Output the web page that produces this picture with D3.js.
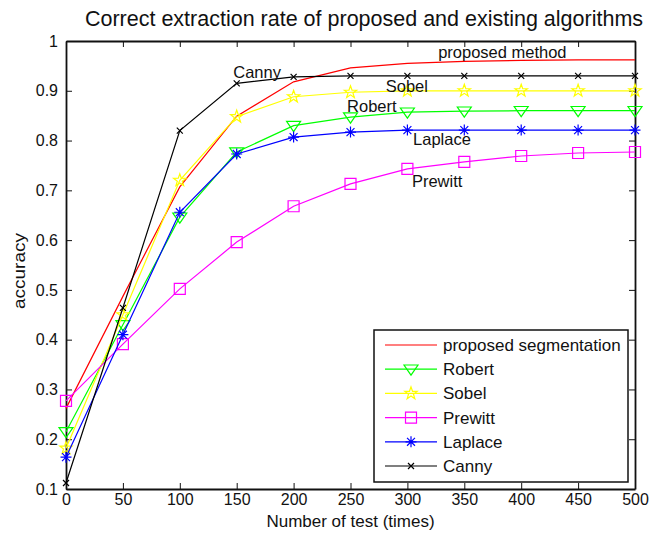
<!DOCTYPE html>
<html>
<head>
<meta charset="utf-8">
<script src="https://cdn.jsdelivr.net/npm/d3@7"></script>
<style>
  body { margin: 0; background: #fff; }
  text { font-family: "Liberation Sans", Arial, sans-serif; fill: #111; }
</style>
</head>
<body>
<svg id="drawing_region"></svg>
<script>
// number of tests on the x axis
const tests = [0, 50, 100, 150, 200, 250, 300, 350, 400, 450, 500];

// accuracy for each method
const proposed = [0.262, 0.487, 0.707, 0.849, 0.918, 0.946, 0.955, 0.959, 0.961, 0.962, 0.962];
const robert   = [0.215, 0.430, 0.646, 0.777, 0.830, 0.847, 0.857, 0.859, 0.860, 0.860, 0.860];
const sobel    = [0.182, 0.450, 0.720, 0.848, 0.888, 0.897, 0.900, 0.900, 0.900, 0.900, 0.900];
const prewitt  = [0.277, 0.391, 0.502, 0.596, 0.668, 0.713, 0.743, 0.757, 0.769, 0.775, 0.777];
const laplace  = [0.164, 0.410, 0.656, 0.773, 0.807, 0.817, 0.821, 0.821, 0.821, 0.821, 0.821];
const canny    = [0.112, 0.464, 0.820, 0.915, 0.928, 0.930, 0.930, 0.930, 0.930, 0.930, 0.930];

const seriesNames = ["proposed segmentation", "Robert", "Sobel", "Prewitt", "Laplace", "Canny"];
const xTicks = [0, 50, 100, 150, 200, 250, 300, 350, 400, 450, 500];
const yTicks = [0.1, 0.2, 0.3, 0.4, 0.5, 0.6, 0.7, 0.8, 0.9, 1];

// text labels placed next to the curves
const notes = [
  {text: "Canny", x: 147, y: 0.926},
  {text: "proposed method", x: 327, y: 0.966},
  {text: "Sobel", x: 281, y: 0.898},
  {text: "Robert", x: 247, y: 0.858},
  {text: "Laplace", x: 305, y: 0.791},
  {text: "Prewitt", x: 304, y: 0.707}
];

const config = {
  width: 651, height: 534,
  margin: {top: 41, right: 16, bottom: 45, left: 66}
};

const series = [
  {name: seriesNames[0], values: proposed, color: "#ff0000", marker: null},
  {name: seriesNames[1], values: robert,   color: "#00ff00", marker: "tri"},
  {name: seriesNames[2], values: sobel,    color: "#ffff00", marker: "star"},
  {name: seriesNames[3], values: prewitt,  color: "#ff00ff", marker: "square"},
  {name: seriesNames[4], values: laplace,  color: "#0000ff", marker: "ast"},
  {name: seriesNames[5], values: canny,    color: "#000000", marker: "x"}
];

// marker shapes, drawn around 0,0
function markerPath(type) {
  const p = d3.path();
  if (type === "tri") {
    const r = 7;
    p.moveTo(-r, -r * 0.6); p.lineTo(r, -r * 0.6); p.lineTo(0, r * 0.85); p.closePath();
  } else if (type === "square") {
    const r = 5.5;
    p.rect(-r, -r, 2 * r, 2 * r);
  } else if (type === "star") {
    const ro = 6.5, ri = 2.6;
    for (let i = 0; i < 10; i++) {
      const a = -Math.PI / 2 + i * Math.PI / 5;
      const r = i % 2 ? ri : ro;
      if (i === 0) p.moveTo(r * Math.cos(a), r * Math.sin(a));
      else p.lineTo(r * Math.cos(a), r * Math.sin(a));
    }
    p.closePath();
  } else if (type === "ast") {
    const r = 5.5, d = r * 0.72;
    p.moveTo(0, -r); p.lineTo(0, r);
    p.moveTo(-r, 0); p.lineTo(r, 0);
    p.moveTo(-d, -d); p.lineTo(d, d);
    p.moveTo(-d, d); p.lineTo(d, -d);
  } else if (type === "x") {
    const d = 3;
    p.moveTo(-d, -d); p.lineTo(d, d);
    p.moveTo(-d, d); p.lineTo(d, -d);
  }
  return p.toString();
}

const svg = d3.select("#drawing_region")
  .attr("width", config.width)
  .attr("height", config.height);

const innerW = config.width - config.margin.left - config.margin.right;
const innerH = config.height - config.margin.top - config.margin.bottom;

const chart = svg.append("g")
  .attr("transform", `translate(${config.margin.left},${config.margin.top})`);

const xscale = d3.scaleLinear().domain([0, 500]).range([0, innerW]);
const yscale = d3.scaleLinear().domain([0.1, 1]).range([innerH, 0]);

// axes with inward ticks on all four sides
const fmtY = d => d === 1 ? "1" : d3.format(".1f")(d);
const axBottom = chart.append("g").attr("transform", `translate(0,${innerH})`)
  .call(d3.axisBottom(xscale).tickValues(xTicks).tickSizeInner(-6).tickSizeOuter(0).tickPadding(5));
const axLeft = chart.append("g")
  .call(d3.axisLeft(yscale).tickValues(yTicks).tickFormat(fmtY).tickSizeInner(-6).tickSizeOuter(0).tickPadding(8));
const axTop = chart.append("g")
  .call(d3.axisTop(xscale).tickValues(xTicks).tickSizeInner(-6).tickSizeOuter(0).tickFormat(""));
const axRight = chart.append("g").attr("transform", `translate(${innerW},0)`)
  .call(d3.axisRight(yscale).tickValues(yTicks).tickSizeInner(-6).tickSizeOuter(0).tickFormat(""));

[axBottom, axLeft, axTop, axRight].forEach(g => {
  g.select(".domain").attr("stroke", "#111").attr("stroke-width", 1.8);
  g.selectAll(".tick line").attr("stroke", "#111").attr("stroke-width", 1);
  g.selectAll(".tick text").style("font-size", "16px").attr("fill", "#111")
    .style("font-family", "'Liberation Sans', Arial, sans-serif");
});

const line = d3.line()
  .x((d, i) => xscale(tests[i]))
  .y(d => yscale(d));

series.forEach(s => {
  chart.append("path")
    .datum(s.values)
    .attr("fill", "none")
    .attr("stroke", s.color)
    .attr("stroke-width", 1.2)
    .attr("d", line);

  if (s.marker) {
    chart.selectAll(null)
      .data(s.values)
      .enter()
      .append("path")
      .attr("transform", (d, i) => `translate(${xscale(tests[i])},${yscale(d)})`)
      .attr("d", markerPath(s.marker))
      .attr("fill", "none")
      .attr("stroke", s.color)
      .attr("stroke-width", 1.2);
  }
});

// curve annotations
chart.selectAll(".note")
  .data(notes)
  .enter()
  .append("text")
  .attr("class", "note")
  .attr("x", d => xscale(d.x))
  .attr("y", d => yscale(d.y))
  .style("font-size", "16.5px")
  .text(d => d.text);

// legend box
const legend = chart.append("g").attr("transform", `translate(${374 - config.margin.left},${330 - config.margin.top})`);
legend.append("rect")
  .attr("width", 254).attr("height", 152)
  .attr("fill", "#fff").attr("stroke", "#111").attr("stroke-width", 1.5);

const rows = legend.selectAll(".row")
  .data(series)
  .enter()
  .append("g")
  .attr("transform", (d, i) => `translate(0,${15 + i * 24.2})`);

rows.append("line")
  .attr("x1", 11).attr("x2", 63)
  .attr("stroke", d => d.color).attr("stroke-width", 1.2);
rows.filter(d => d.marker)
  .append("path")
  .attr("transform", "translate(37,0)")
  .attr("d", d => markerPath(d.marker))
  .attr("fill", "none")
  .attr("stroke", d => d.color)
  .attr("stroke-width", 1.2);
rows.append("text")
  .attr("x", 69).attr("dy", "0.35em")
  .style("font-size", "17px")
  .text(d => d.name);

// title and axis labels
svg.append("text")
  .attr("x", 364)
  .attr("y", 26)
  .attr("text-anchor", "middle")
  .style("font-size", "21.5px")
  .text("Correct extraction rate of proposed and existing algorithms");

svg.append("text")
  .attr("x", config.margin.left + innerW / 2)
  .attr("y", 527)
  .attr("text-anchor", "middle")
  .style("font-size", "17px")
  .text("Number of test (times)");

svg.append("text")
  .attr("transform", "translate(25,271) rotate(-90)")
  .attr("text-anchor", "middle")
  .attr("textLength", 76)
  .attr("lengthAdjust", "spacingAndGlyphs")
  .style("font-size", "17px")
  .text("accuracy");
</script>
</body>
</html>
